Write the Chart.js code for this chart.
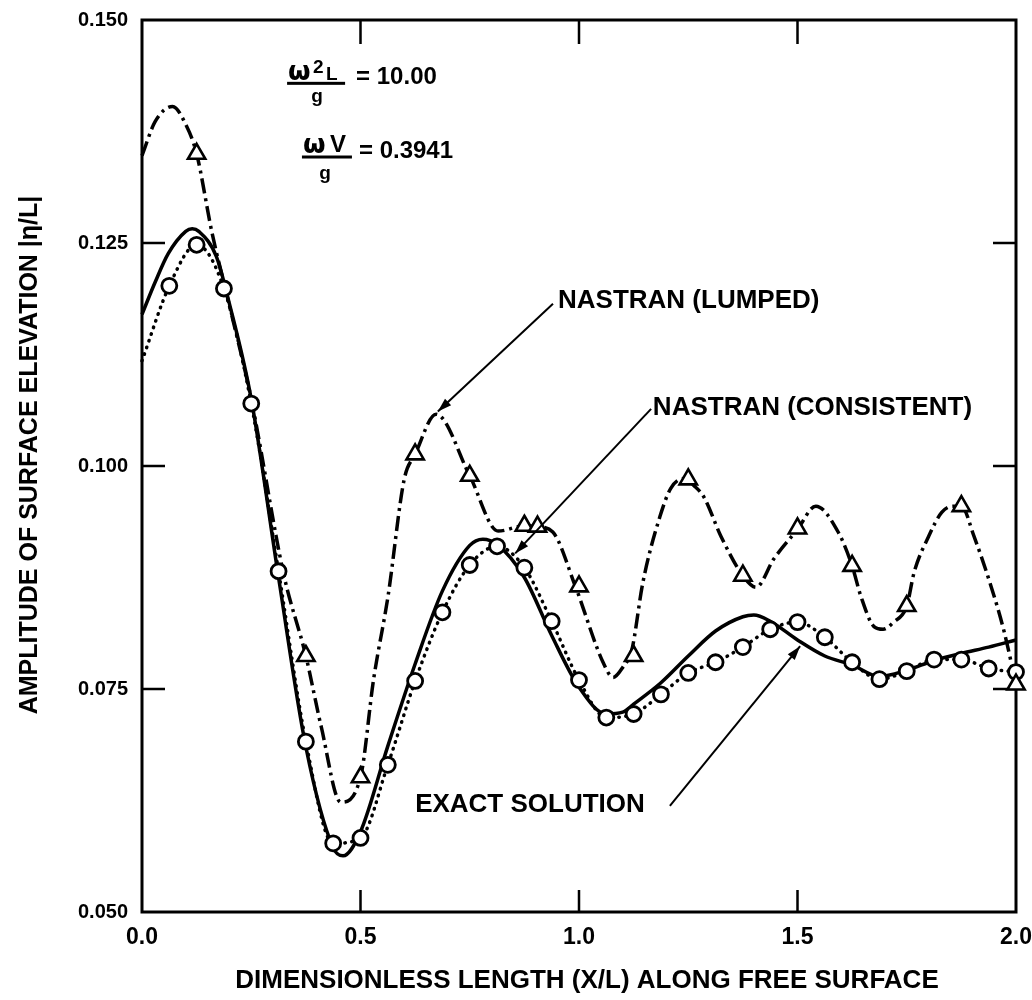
<!DOCTYPE html>
<html>
<head>
<meta charset="utf-8">
<script src="https://cdn.jsdelivr.net/npm/chart.js@4.4.1/dist/chart.umd.min.js"></script>
<style>
  html, body { margin: 0; padding: 0; background: #fff; }
  #wrap { width: 1032px; height: 1000px; }
</style>
</head>
<body>
<div id="wrap"><canvas id="chart" width="1032" height="1000"></canvas></div>
<script>
// values (x = X/L, y = |eta/L|)
const exactX = [0, 0.03, 0.06, 0.1, 0.115, 0.13, 0.17, 0.2, 0.25, 0.3125, 0.375, 0.4375, 0.46, 0.5,
  0.5625, 0.625, 0.6875, 0.75, 0.78, 0.8125, 0.875, 0.9375, 1.0, 1.0625, 1.1, 1.125, 1.1875, 1.25,
  1.3125, 1.375, 1.4, 1.4375, 1.5, 1.5625, 1.625, 1.6875, 1.75, 1.8125, 1.875, 1.9375, 2.0];
const exactY = [0.1170, 0.1206, 0.1238, 0.1263, 0.1266, 0.1263, 0.1235, 0.1182, 0.1075, 0.0875, 0.0685, 0.0572, 0.0563, 0.0590,
  0.0686, 0.0778, 0.0860, 0.0911, 0.0918, 0.0912, 0.0875, 0.0810, 0.0752, 0.0722, 0.0724, 0.0733, 0.0757, 0.0787,
  0.0815, 0.0831, 0.0833, 0.0826, 0.0805, 0.0787, 0.0777, 0.0764, 0.0771, 0.0782, 0.0790, 0.0797, 0.0805];

// consistent-mass solution, one circle every 1/16 (first point has no marker)
const consistentX = [0, 0.0625, 0.125, 0.1875, 0.25, 0.3125, 0.375, 0.4375, 0.5, 0.5625, 0.625, 0.6875,
  0.75, 0.8125, 0.875, 0.9375, 1.0, 1.0625, 1.125, 1.1875, 1.25, 1.3125, 1.375, 1.4375, 1.5, 1.5625,
  1.625, 1.6875, 1.75, 1.8125, 1.875, 1.9375, 2.0];
const consistentY = [0.1118, 0.1202, 0.1248, 0.1199, 0.1070, 0.0882, 0.0691, 0.0577, 0.0583, 0.0665, 0.0759, 0.0836,
  0.0889, 0.0910, 0.0886, 0.0826, 0.0760, 0.0718, 0.0722, 0.0744, 0.0768, 0.0780, 0.0797, 0.0817, 0.0825, 0.0808,
  0.0780, 0.0761, 0.0770, 0.0783, 0.0783, 0.0773, 0.0769];

// lumped-mass solution, curve
const lumpedX = [0, 0.03, 0.07, 0.1, 0.125, 0.16, 0.2, 0.25, 0.325, 0.375, 0.41, 0.455, 0.5, 0.53, 0.563,
  0.6, 0.625, 0.673, 0.75, 0.815, 0.875, 0.905, 0.94, 0.991, 1.055, 1.078, 1.101, 1.121, 1.146, 1.185, 1.21, 1.24,
  1.263, 1.286, 1.325, 1.375, 1.405, 1.446, 1.5, 1.542, 1.593, 1.625, 1.645, 1.675, 1.696, 1.72, 1.75,
  1.767, 1.8, 1.83, 1.856, 1.875, 1.904, 1.943, 1.973, 2.0];
const lumpedY = [0.1348, 0.1386, 0.1403, 0.1383, 0.1350, 0.1262, 0.1180, 0.1075, 0.0877, 0.0787, 0.0708, 0.0623, 0.0651, 0.0761, 0.0854,
  0.0985, 0.1013, 0.1058, 0.0989, 0.0927, 0.0933, 0.0932, 0.0926, 0.0866, 0.0780, 0.0763, 0.0775, 0.0794, 0.0869, 0.0943, 0.0975, 0.0986,
  0.0978, 0.0965, 0.0921, 0.0877, 0.0864, 0.0896, 0.0929, 0.0955, 0.0926, 0.0888, 0.0854, 0.0820, 0.0817, 0.0825, 0.0843,
  0.0881, 0.0921, 0.0948, 0.0955, 0.0955, 0.0921, 0.0865, 0.0814, 0.0755];

// lumped-mass solution, triangle markers
const lumpedMarkX = [0.125, 0.375, 0.5, 0.625, 0.75, 0.875, 0.905, 1.0, 1.125, 1.25, 1.375, 1.5, 1.625, 1.75, 1.875, 2.0];
const lumpedMarkY = [0.1350, 0.0787, 0.0651, 0.1013, 0.0989, 0.0933, 0.0932, 0.0865, 0.0787, 0.0985, 0.0877, 0.0930, 0.0888, 0.0843, 0.0955, 0.0755];

const xTicks = [0, 0.5, 1.0, 1.5, 2.0];
const yTicks = [0.05, 0.075, 0.1, 0.125, 0.15];

const FONT = '"Liberation Sans", Arial, Helvetica, sans-serif';

function pts(xs, ys) {
  return xs.map((x, i) => ({ x, y: ys[i] }));
}

function drawArrow(ctx, x0, y0, x1, y1) {
  ctx.beginPath();
  ctx.moveTo(x0, y0);
  ctx.lineTo(x1, y1);
  ctx.stroke();
  const ang = Math.atan2(y1 - y0, x1 - x0);
  const len = 14;
  const half = 4.5;
  const bx = x1 - len * Math.cos(ang);
  const by = y1 - len * Math.sin(ang);
  ctx.beginPath();
  ctx.moveTo(x1, y1);
  ctx.lineTo(bx + half * Math.sin(ang), by - half * Math.cos(ang));
  ctx.lineTo(bx - half * Math.sin(ang), by + half * Math.cos(ang));
  ctx.closePath();
  ctx.fill();
}

// box around the plot and inward tick marks
const framePlugin = {
  id: 'frame',
  beforeDatasetsDraw(chart) {
    const { ctx, chartArea: a, scales: { x, y } } = chart;
    ctx.save();
    ctx.strokeStyle = '#000';
    ctx.lineWidth = 3;
    ctx.strokeRect(a.left, a.top, a.right - a.left, a.bottom - a.top);
    ctx.lineWidth = 2.5;
    ctx.beginPath();
    xTicks.slice(1, -1).forEach((v) => {
      const px = x.getPixelForValue(v);
      ctx.moveTo(px, a.bottom);
      ctx.lineTo(px, a.bottom - 22);
      ctx.moveTo(px, a.top);
      ctx.lineTo(px, a.top + 24);
    });
    yTicks.slice(1, -1).forEach((v) => {
      const py = y.getPixelForValue(v);
      ctx.moveTo(a.left, py);
      ctx.lineTo(a.left + 23, py);
      ctx.moveTo(a.right, py);
      ctx.lineTo(a.right - 23, py);
    });
    ctx.stroke();
    ctx.restore();
  },
};

// curve labels, parameters and axis titles
const notesPlugin = {
  id: 'notes',
  afterDatasetsDraw(chart) {
    const { ctx, scales: { x, y } } = chart;
    const P = (xv, yv) => [x.getPixelForValue(xv), y.getPixelForValue(yv)];
    ctx.save();
    ctx.fillStyle = '#000';
    ctx.strokeStyle = '#000';
    ctx.lineWidth = 2;
    ctx.textBaseline = 'middle';
    ctx.textAlign = 'left';
    ctx.font = `bold 26px ${FONT}`;

    let p = P(0.952, 0.1185);
    ctx.fillText('NASTRAN (LUMPED)', p[0], p[1]);
    drawArrow(ctx, ...P(0.9405, 0.1182), ...P(0.677, 0.1061));

    p = P(1.169, 0.1065);
    ctx.fillText('NASTRAN (CONSISTENT)', p[0], p[1]);
    drawArrow(ctx, ...P(1.165, 0.1064), ...P(0.854, 0.0902));

    p = P(0.625, 0.0620);
    ctx.fillText('EXACT SOLUTION', p[0], p[1]);
    drawArrow(ctx, ...P(1.208, 0.0619), ...P(1.506, 0.0798));

    // omega^2 L / g = 10.00
    let [fx, fy] = P(0.332, 0.1429);
    ctx.textBaseline = 'alphabetic';
    ctx.font = `bold 26px "DejaVu Sans", ${FONT}`;
    ctx.fillText('ω', fx + 1, fy - 3);
    ctx.font = `bold 19px ${FONT}`;
    ctx.fillText('2', fx + 26, fy - 10);
    ctx.fillText('L', fx + 39, fy - 3);
    ctx.fillRect(fx, fy - 1.5, 58, 3);
    ctx.textAlign = 'center';
    ctx.fillText('g', fx + 30, fy + 19);
    ctx.textAlign = 'left';
    ctx.textBaseline = 'middle';
    ctx.font = `bold 24px ${FONT}`;
    ctx.fillText('= 10.00', fx + 69, fy - 6);

    // omega V / g = 0.3941
    [fx, fy] = P(0.366, 0.13464);
    ctx.textBaseline = 'alphabetic';
    ctx.font = `bold 26px "DejaVu Sans", ${FONT}`;
    ctx.fillText('ω', fx + 1, fy - 4);
    ctx.font = `bold 24px ${FONT}`;
    ctx.fillText('V', fx + 28, fy - 5);
    ctx.fillRect(fx, fy - 1.5, 50, 3);
    ctx.textAlign = 'center';
    ctx.font = `bold 19px ${FONT}`;
    ctx.fillText('g', fx + 23, fy + 22);
    ctx.textAlign = 'left';
    ctx.textBaseline = 'middle';
    ctx.font = `bold 24px ${FONT}`;
    ctx.fillText('= 0.3941', fx + 57, fy - 6);

    // axis titles
    ctx.textAlign = 'center';
    ctx.font = `bold 26px ${FONT}`;
    ctx.fillText('DIMENSIONLESS LENGTH (X/L) ALONG FREE SURFACE', 587, 981);
    ctx.translate(30, 455);
    ctx.rotate(-Math.PI / 2);
    ctx.font = `bold 25px ${FONT}`;
    ctx.fillText('AMPLITUDE OF SURFACE ELEVATION |η/L|', 0, 0);
    ctx.restore();
  },
};

const black = '#000';

// eslint-disable-next-line no-undef, no-new
new Chart(document.getElementById('chart'), {
  type: 'scatter',
  data: {
    datasets: [
      {
        label: 'NASTRAN (LUMPED) points',
        data: pts(lumpedMarkX, lumpedMarkY),
        showLine: false,
        pointStyle: 'triangle',
        pointRadius: 10,
        pointBorderWidth: 2.6,
        pointBorderColor: black,
        pointBackgroundColor: '#fff',
        clip: false,
        order: 1,
      },
      {
        label: 'NASTRAN (CONSISTENT)',
        data: pts(consistentX, consistentY),
        showLine: true,
        borderColor: black,
        borderWidth: 3.5,
        borderDash: [0.5, 6.5],
        borderCapStyle: 'round',
        cubicInterpolationMode: 'monotone',
        pointStyle: 'circle',
        pointRadius: (c) => (c.dataIndex === 0 ? 0 : 7.5),
        pointBorderWidth: 2.8,
        pointBorderColor: black,
        pointBackgroundColor: '#fff',
        clip: false,
        order: 2,
      },
      {
        label: 'NASTRAN (LUMPED)',
        data: pts(lumpedX, lumpedY),
        showLine: true,
        borderColor: black,
        borderWidth: 3.5,
        borderDash: [15, 5, 3, 5],
        cubicInterpolationMode: 'monotone',
        pointRadius: 0,
        clip: false,
        order: 3,
      },
      {
        label: 'EXACT SOLUTION',
        data: pts(exactX, exactY),
        showLine: true,
        borderColor: black,
        borderWidth: 3.5,
        cubicInterpolationMode: 'monotone',
        pointRadius: 0,
        clip: false,
        order: 4,
      },
    ],
  },
  options: {
    responsive: false,
    animation: false,
    devicePixelRatio: 1,
    events: [],
    layout: {
      padding: { top: 20, right: 16, left: 0, bottom: 0 },
    },
    plugins: {
      legend: { display: false },
      tooltip: { enabled: false },
    },
    scales: {
      x: {
        type: 'linear',
        min: 0,
        max: 2,
        afterBuildTicks: (scale) => { scale.ticks = xTicks.map((value) => ({ value })); },
        afterFit: (scale) => {
          scale.height = 88;
          scale.paddingLeft = 0;
          scale.paddingRight = 0;
        },
        ticks: {
          color: black,
          padding: 12,
          maxRotation: 0,
          font: { family: FONT, size: 23, weight: 'bold' },
          callback: (v) => Number(v).toFixed(1),
        },
        grid: { display: false, drawTicks: false },
        border: { display: false },
      },
      y: {
        type: 'linear',
        min: 0.05,
        max: 0.15,
        afterBuildTicks: (scale) => { scale.ticks = yTicks.map((value) => ({ value })); },
        afterFit: (scale) => {
          scale.width = 142;
          scale.paddingTop = 0;
          scale.paddingBottom = 0;
        },
        ticks: {
          color: black,
          padding: 14,
          font: { family: FONT, size: 20, weight: 'bold' },
          callback: (v) => Number(v).toFixed(3),
        },
        grid: { display: false, drawTicks: false },
        border: { display: false },
      },
    },
  },
  plugins: [framePlugin, notesPlugin],
});
</script>
</body>
</html>
